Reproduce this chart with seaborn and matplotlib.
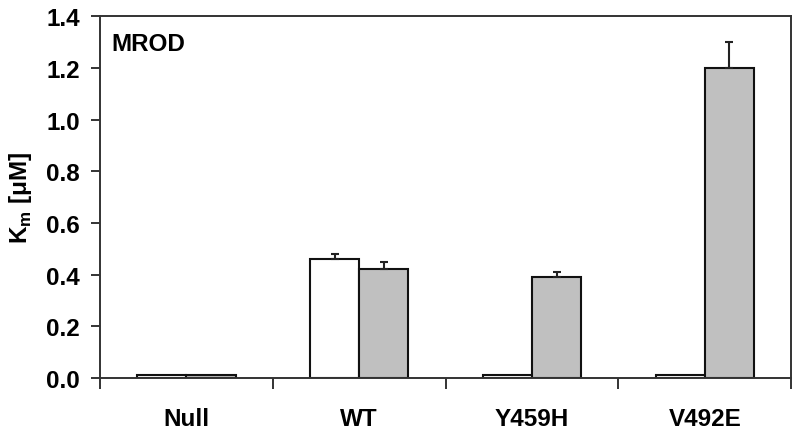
import matplotlib
matplotlib.use("Agg")
import matplotlib.pyplot as plt
import numpy as np
import pandas as pd
import seaborn as sns

categories = ["Null", "WT", "Y459H", "V492E"]
series = ["white", "gray"]
white_vals = [0.01, 0.46, 0.01, 0.01]
gray_vals = [0.01, 0.42, 0.39, 1.20]
white_err = [0.0, 0.02, 0.0, 0.0]
gray_err = [0.0, 0.03, 0.02, 0.10]
y_ticks = [0.0, 0.2, 0.4, 0.6, 0.8, 1.0, 1.2, 1.4]

sns.set_style("white")
plt.rcParams["font.family"] = ["Liberation Sans", "DejaVu Sans"]
plt.rcParams["mathtext.fontset"] = "custom"
plt.rcParams["mathtext.bf"] = "Liberation Sans:bold"
plt.rcParams["mathtext.rm"] = "Liberation Sans:bold"
plt.rcParams["text.color"] = "black"
plt.rcParams["axes.labelcolor"] = "black"
plt.rcParams["xtick.labelcolor"] = "black"
plt.rcParams["ytick.labelcolor"] = "black"

FS = 17.5

df = pd.DataFrame({
    "group": categories * 2,
    "series": [series[0]] * 4 + [series[1]] * 4,
    "value": white_vals + gray_vals,
})

fig = plt.figure(figsize=(8, 4.35), dpi=100)
ax = fig.add_axes([0.125, 0.1287, 0.864, 0.832])

sns.barplot(data=df, x="group", y="value", hue="series", order=categories,
            hue_order=series, palette=["white", "#c0c0c0"], width=0.57,
            edgecolor="#111111", linewidth=1.5, legend=False, ax=ax)

# upward-only error bars at the bar centres
errs = white_err + gray_err
for patch, val, err in zip(ax.patches, white_vals + gray_vals, errs):
    if err > 0:
        xc = patch.get_x() + patch.get_width() / 2
        ax.errorbar(xc, val, yerr=[[0], [err]], fmt="none", ecolor="#222222",
                    elinewidth=1.5, capsize=3, capthick=1.5)

ax.set_xlim(-0.5, 3.5)
ax.set_ylim(0, 1.4)
ax.set_yticks(y_ticks)
ax.set_yticklabels([f"{t:.1f}" for t in y_ticks], fontsize=FS, fontweight="bold")

ax.set_xticks(np.arange(-0.5, 4, 1.0))
ax.set_xticklabels([])
ax.set_xticks(np.arange(len(categories)), minor=True)
ax.set_xticklabels(categories, minor=True, fontsize=FS, fontweight="bold")
ax.tick_params(axis="x", which="major", bottom=True, direction="out", length=8,
               width=1.4, color="#333333")
ax.tick_params(axis="x", which="minor", bottom=True, length=0, pad=21)
ax.tick_params(axis="y", left=True, direction="out", length=6.5, width=1.4,
               color="#333333", pad=8)

ax.set_xlabel("")
ax.set_ylabel(r"K$_\mathbf{m}$ [μM]", fontsize=FS, fontweight="bold", labelpad=9)

for s in ax.spines.values():
    s.set_visible(True)
    s.set_linewidth(1.4)
    s.set_color("#333333")

ax.text(0.016, 0.955, "MROD", transform=ax.transAxes, fontsize=FS,
        fontweight="bold", va="top", ha="left")

fig.savefig("out.png", dpi=100)
